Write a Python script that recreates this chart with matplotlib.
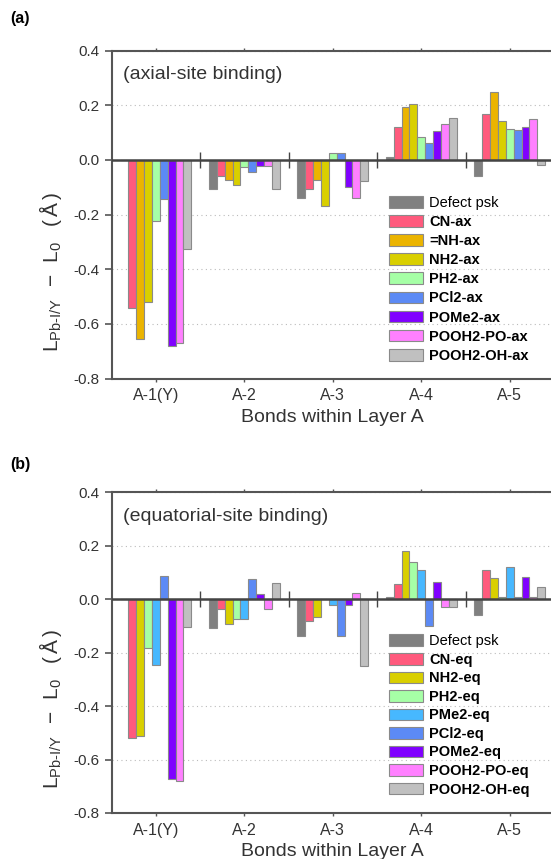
import numpy as np
import matplotlib.pyplot as plt

plt.rcParams['font.family'] = ['Liberation Sans', 'DejaVu Sans']
plt.rcParams['mathtext.fontset'] = 'custom'
plt.rcParams['mathtext.rm'] = 'Liberation Sans'
plt.rcParams['mathtext.it'] = 'Liberation Sans'

bonds = ['A-1(Y)', 'A-2', 'A-3', 'A-4', 'A-5']
yticks = [-0.8, -0.6, -0.4, -0.2, 0.0, 0.2, 0.4]

# axial-site binding
labels_ax = ['Defect psk', 'CN-ax', '=NH-ax', 'NH2-ax', 'PH2-ax', 'PCl2-ax',
             'POMe2-ax', 'POOH2-PO-ax', 'POOH2-OH-ax']
defect_ax = [0.0, -0.106, -0.138, 0.012, -0.060]
cn_ax = [-0.540, -0.059, -0.106, 0.120, 0.167]
nh_ax = [-0.656, -0.073, -0.073, 0.195, 0.250]
nh2_ax = [-0.518, -0.093, -0.167, 0.204, 0.143]
ph2_ax = [-0.223, -0.027, 0.027, 0.083, 0.115]
pcl2_ax = [-0.143, -0.045, 0.027, 0.062, 0.109]
pome2_ax = [-0.679, -0.021, -0.098, 0.107, 0.122]
pooh2po_ax = [-0.671, -0.022, -0.138, 0.130, 0.151]
pooh2oh_ax = [-0.327, -0.105, -0.078, 0.152, -0.020]

# equatorial-site binding
labels_eq = ['Defect psk', 'CN-eq', 'NH2-eq', 'PH2-eq', 'PMe2-eq', 'PCl2-eq',
             'POMe2-eq', 'POOH2-PO-eq', 'POOH2-OH-eq']
defect_eq = [0.0, -0.109, -0.139, 0.010, -0.061]
cn_eq = [-0.520, -0.038, -0.080, 0.058, 0.111]
nh2_eq = [-0.512, -0.093, -0.068, 0.181, 0.080]
ph2_eq = [-0.184, -0.076, 0.0, 0.140, 0.010]
pme2_eq = [-0.248, -0.074, -0.020, 0.109, 0.119]
pcl2_eq = [0.085, 0.075, -0.136, -0.100, 0.010]
pome2_eq = [-0.674, 0.018, -0.020, 0.065, 0.084]
pooh2po_eq = [-0.682, -0.038, 0.023, -0.028, 0.010]
pooh2oh_eq = [-0.103, 0.061, -0.250, -0.028, 0.045]

colors_ax = ['#808080', '#FF5A7D', '#EBB400', '#D9CF00', '#A6FFA6', '#5C8AF5',
             '#8000FF', '#FF80FF', '#C0C0C0']
colors_eq = ['#808080', '#FF5A7D', '#D9CF00', '#A6FFA6', '#47B8FF', '#5C8AF5',
             '#8000FF', '#FF80FF', '#C0C0C0']

dark = '#444444'
ylab = r'L$_{\mathrm{Pb\text{-}I/Y}}$ $\,-\,$ L$_0$ $\;\;(\,\mathrm{\AA}\,)$'


def draw_panel(ax, series, labels, colors, note, leg_y, spacing):
    n = len(series)
    w = 0.8 / n
    x = np.arange(len(bonds))
    for k, (vals, lab, col) in enumerate(zip(series, labels, colors)):
        ax.bar(x + (k - (n - 1) / 2) * w, vals, w, color=col, edgecolor='#8a8a8a',
               linewidth=0.8, label=lab, zorder=2)
    ax.axhline(0, color=dark, lw=1.8, zorder=3)
    # separators between bond groups
    ax.plot(x[:-1] + 0.5, np.zeros(len(x) - 1), ls='none', marker='|', ms=12,
            mew=1.0, color=dark, zorder=4)
    ax.set_xlim(-0.5, len(bonds) - 0.5)
    ax.set_ylim(-0.8, 0.4)
    ax.set_xticks(x)
    ax.set_xticklabels(bonds, fontsize=11.5, color='#333333')
    ax.set_yticks(yticks)
    ax.set_yticklabels(['%.1f' % v for v in yticks], fontsize=11, color='#333333')
    ax.yaxis.grid(True, ls=(0, (1, 3)), color='#bbbbbb', lw=0.8, zorder=0)
    ax.set_axisbelow(True)
    for s in ['left', 'bottom', 'top']:
        ax.spines[s].set_color('#555555')
        ax.spines[s].set_linewidth(1.5)
    ax.spines['right'].set_visible(False)
    ax.tick_params(axis='y', direction='out', length=5, width=1.2, color='#555555')
    ax.tick_params(axis='x', direction='out', length=2, width=1, color='#555555',
                   top=True, pad=5)
    ax.set_xlabel('Bonds within Layer A', fontsize=14, color='#333333', labelpad=4)
    ax.set_ylabel(ylab, fontsize=15, color='#333333')
    ax.yaxis.set_label_coords(-0.108, 0.325)
    ax.text(0.026, 0.926, note, transform=ax.transAxes, fontsize=14,
            color='#333333', va='center', ha='left')
    leg = ax.legend(loc='upper left', bbox_to_anchor=(0.627, leg_y), frameon=False,
                    fontsize=10.5, handlelength=2.35, handleheight=0.85,
                    labelspacing=spacing, handletextpad=0.4, borderpad=0,
                    borderaxespad=0)
    for i, t in enumerate(leg.get_texts()):
        if i > 0:
            t.set_fontweight('bold')


fig = plt.figure(figsize=(5.51, 8.59), dpi=100)
ax1 = fig.add_axes([0.2027, 0.5593, 0.8027, 0.3817])
ax2 = fig.add_axes([0.2027, 0.0536, 0.8027, 0.3733])

draw_panel(ax1, [defect_ax, cn_ax, nh_ax, nh2_ax, ph2_ax, pcl2_ax, pome2_ax,
                 pooh2po_ax, pooh2oh_ax], labels_ax, colors_ax,
           '(axial-site binding)', 0.557, 0.35)
draw_panel(ax2, [defect_eq, cn_eq, nh2_eq, ph2_eq, pme2_eq, pcl2_eq, pome2_eq,
                 pooh2po_eq, pooh2oh_eq], labels_eq, colors_eq,
           '(equatorial-site binding)', 0.557, 0.31)

fig.text(0.018, 0.979, '(a)', fontsize=11.5, fontweight='bold', va='center')
fig.text(0.018, 0.459, '(b)', fontsize=11.5, fontweight='bold', va='center')

fig.savefig('out.png', dpi=100)
